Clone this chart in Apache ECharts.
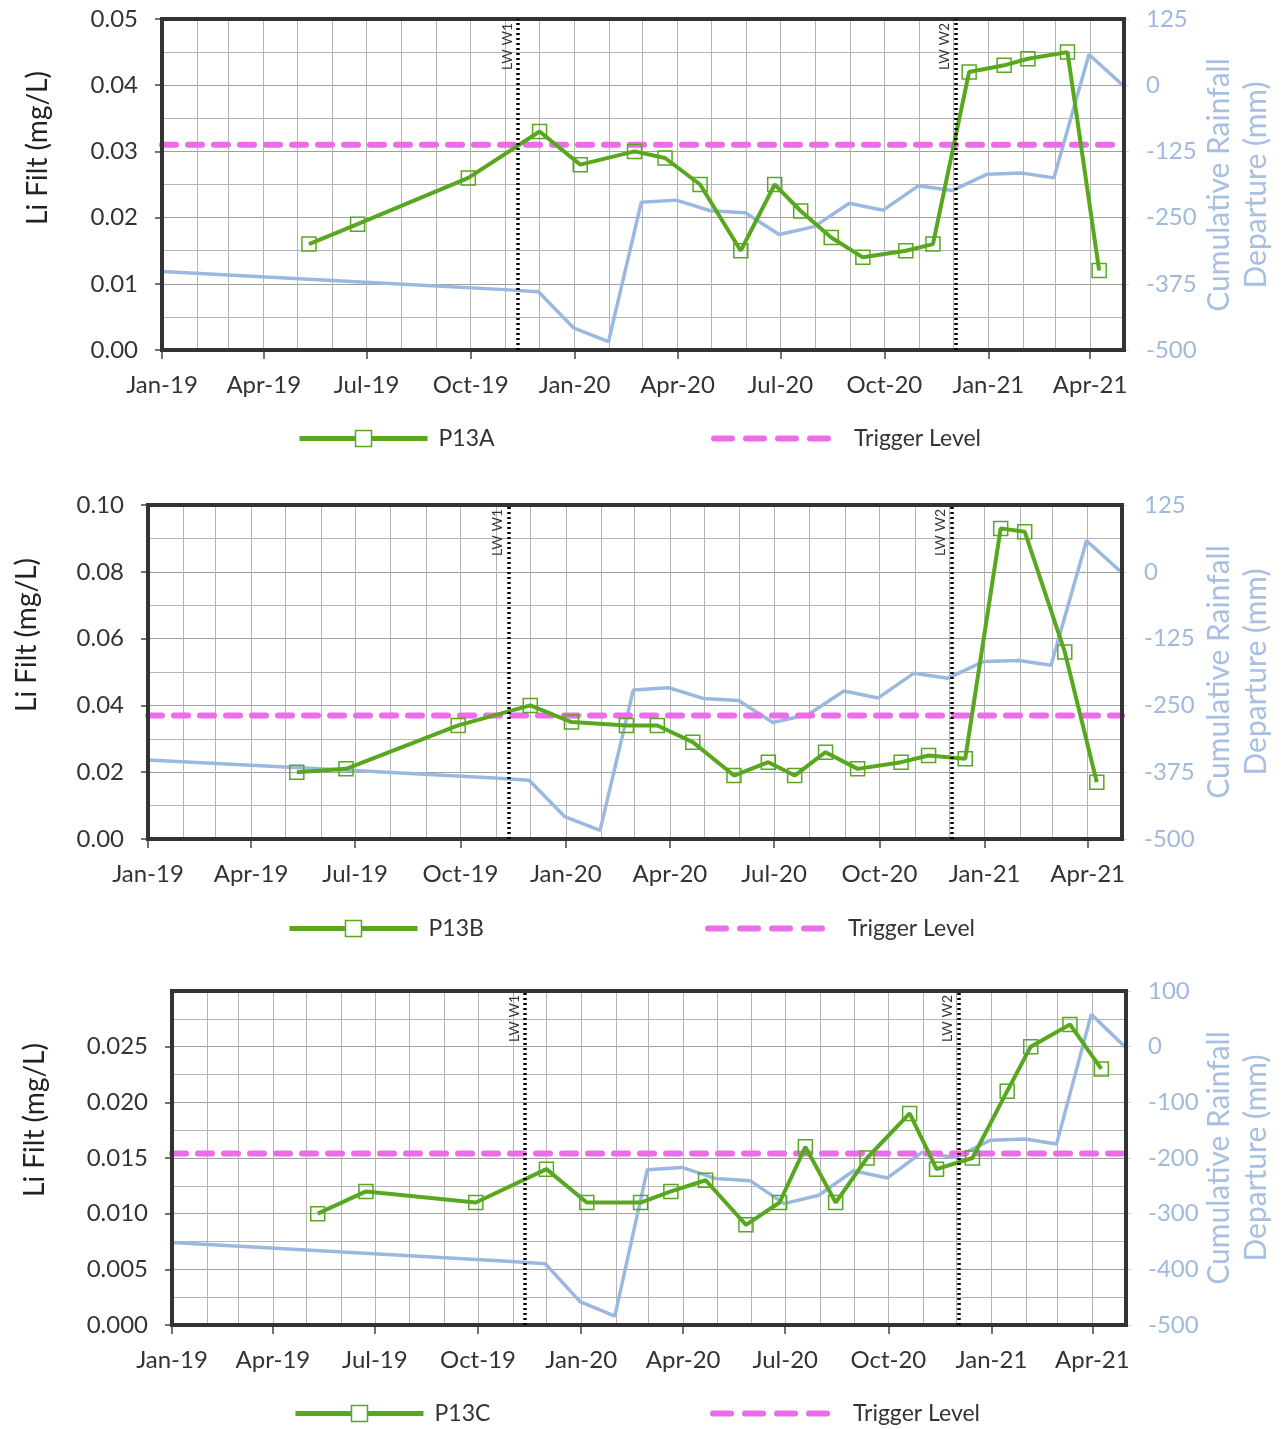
<!DOCTYPE html>
<html>
<head>
<meta charset="utf-8">
<script src="https://cdn.jsdelivr.net/npm/echarts@6/dist/echarts.min.js"></script>
<style>
  html, body { margin: 0; padding: 0; background: #fff; }
  #main { width: 1285px; height: 1429px; }
</style>
</head>
<body>
<div id="main"></div>
<script>
// sampling dates shared by the three bores
const sampleDates = ['2019-05-11', '2019-06-23', '2019-09-29', '2019-12-01', '2020-01-06', '2020-02-23',
  '2020-03-21', '2020-04-21', '2020-05-27', '2020-06-26', '2020-07-19', '2020-08-15', '2020-09-12',
  '2020-10-20', '2020-11-13', '2020-12-15', '2021-01-15', '2021-02-05', '2021-03-12', '2021-04-09']
const p13a = [0.016, 0.019, 0.026, 0.033, 0.028, 0.030, 0.029, 0.025, 0.015, 0.025, 0.021, 0.017, 0.014,
  0.015, 0.016, 0.042, 0.043, 0.044, 0.045, 0.012]
const p13b = [0.020, 0.021, 0.034, 0.040, 0.035, 0.034, 0.034, 0.029, 0.019, 0.023, 0.019, 0.026, 0.021,
  0.023, 0.025, 0.024, 0.093, 0.092, 0.056, 0.017]
const p13c = [0.010, 0.012, 0.011, 0.014, 0.011, 0.011, 0.012, 0.013, 0.009, 0.011, 0.016, 0.011, 0.015,
  0.019, 0.014, 0.015, 0.021, 0.025, 0.027, 0.023]

// cumulative rainfall departure (mm), month end
const rainDates = ['2019-01-01', '2019-06-30', '2019-10-31', '2019-11-30', '2019-12-31', '2020-01-31',
  '2020-02-29', '2020-03-31', '2020-04-30', '2020-05-31', '2020-06-30', '2020-07-31', '2020-08-31',
  '2020-09-30', '2020-10-31', '2020-11-30', '2020-12-31', '2021-01-31', '2021-02-28', '2021-03-31', '2021-04-30']
const rainDeparture = [-352, -372, -386, -390, -458, -484, -221, -217, -237, -241, -282, -267, -223,
  -236, -190, -199, -168, -166, -175, 58, 0]

const triggerLevels = [0.031, 0.037, 0.0154]
const lwDates = ['2019-11-12', '2020-12-03']
const lwNames = ['LW W1', 'LW W2']
const monthNames = ['Jan', 'Feb', 'Mar', 'Apr', 'May', 'Jun', 'Jul', 'Aug', 'Sep', 'Oct', 'Nov', 'Dec']

const xStart = '2019-01-01'
const xEnd = '2021-05-01'
const DAY = 86400000

const GREEN = '#58a81f'
const BLUE = '#9bb8e1'
const PINK = '#ec6cea'
const FONT = 'Lato'

const panels = [
  { name: 'P13A', values: p13a, trigger: triggerLevels[0], left: 162, width: 962, top: 19, height: 331,
    yMax: 0.05, yStep: 0.01, digits: 2, rMax: 125, rStep: 125, legY: 438, legA: 297, legB: 711,
    titleX: 38, titleY: 148, rTitleY: 185 },
  { name: 'P13B', values: p13b, trigger: triggerLevels[1], left: 148, width: 974, top: 505, height: 334,
    yMax: 0.10, yStep: 0.02, digits: 2, rMax: 125, rStep: 125, legY: 928, legA: 287, legB: 705,
    titleX: 27, titleY: 635, rTitleY: 672 },
  { name: 'P13C', values: p13c, trigger: triggerLevels[2], left: 172, width: 954, top: 991, height: 334,
    yMax: 0.03, yStep: 0.005, digits: 3, rMax: 100, rStep: 100, legY: 1413, legA: 293, legB: 710,
    titleX: 35, titleY: 1120, rTitleY: 1158, hideTop: true }
]

function zip(xs, ys) {
  return xs.map(function (x, i) { return [x, ys[i]] })
}

const option = {
  animation: false,
  backgroundColor: '#fff',
  textStyle: { fontFamily: FONT },
  grid: [], xAxis: [], yAxis: [], series: [], legend: [], graphic: []
}

panels.forEach(function (p, k) {
  option.grid.push({
    left: p.left, width: p.width, top: p.top, height: p.height,
    show: true, borderColor: '#333', borderWidth: 4, backgroundColor: 'transparent', z: 5
  })
  // monthly axis: grid lines only
  option.xAxis.push({
    type: 'time', gridIndex: k, position: 'bottom', min: xStart, max: xEnd,
    minInterval: 30 * DAY, maxInterval: 30 * DAY,
    axisLine: { show: false, onZero: false }, axisTick: { show: false }, axisLabel: { show: false },
    splitLine: { show: true, lineStyle: { color: '#b4b4b4', width: 1 } }
  })
  // quarterly axis: labels and ticks
  option.xAxis.push({
    type: 'time', gridIndex: k, position: 'bottom', min: xStart, max: xEnd,
    minInterval: 92 * DAY, maxInterval: 92 * DAY,
    axisLine: { show: false, onZero: false },
    axisTick: { show: true, length: 9, lineStyle: { color: '#444', width: 1.5 } },
    splitLine: { show: false },
    axisLabel: {
      show: true, color: '#333', fontSize: 24, margin: 23, fontFamily: FONT,
      showMinLabel: true, showMaxLabel: false, hideOverlap: false,
      formatter: function (v) {
        const d = new Date(v)
        if (d.getMonth() % 3 !== 0 || d.getDate() !== 1) return ''
        return monthNames[d.getMonth()] + '-' + String(d.getFullYear()).slice(2)
      }
    }
  })
  option.yAxis.push({
    type: 'value', gridIndex: k, min: 0, max: p.yMax, interval: p.yStep,
    axisLine: { show: false },
    axisTick: { show: true, length: 7, lineStyle: { color: '#444', width: 1.5 } },
    axisLabel: {
      color: '#333', fontSize: 24, margin: 24, fontFamily: FONT, showMaxLabel: !p.hideTop,
      formatter: function (v) { return v.toFixed(p.digits) }
    },
    splitLine: { show: true, lineStyle: { color: '#a0a0a0', width: 1 } },
    minorTick: { show: false, splitNumber: 2 },
    minorSplitLine: { show: true, lineStyle: { color: '#b4b4b4', width: 1 } }
  })
  option.yAxis.push({
    type: 'value', gridIndex: k, position: 'right', min: -500, max: p.rMax, interval: p.rStep,
    axisLine: { show: false },
    axisTick: { show: true, length: 5, lineStyle: { color: '#c8d6ea' } },
    axisLabel: { color: '#9fb9de', fontSize: 24, margin: 22, fontFamily: FONT },
    splitLine: { show: false }
  })

  // rainfall
  option.series.push({
    name: 'Rainfall ' + k, type: 'line', xAxisIndex: 2 * k, yAxisIndex: 2 * k + 1,
    data: zip(rainDates, rainDeparture), showSymbol: false, symbol: 'none',
    lineStyle: { color: BLUE, width: 3.5 }, itemStyle: { color: BLUE }, z: 2
  })
  // trigger level
  option.series.push({
    name: 'Trigger Level', type: 'line', xAxisIndex: 2 * k, yAxisIndex: 2 * k,
    data: [[xStart, p.trigger], [xEnd, p.trigger]], symbol: 'none',
    lineStyle: { color: PINK, width: 6, type: [14, 12], cap: 'round' }, itemStyle: { color: PINK }, z: 3
  })
  // bore series + mining markers
  option.series.push({
    name: p.name, type: 'line', xAxisIndex: 2 * k, yAxisIndex: 2 * k,
    data: zip(sampleDates, p.values),
    symbol: 'rect', symbolSize: 14, showSymbol: true,
    lineStyle: { color: GREEN, width: 4 },
    itemStyle: { color: 'rgba(255,255,255,0)', borderColor: GREEN, borderWidth: 1.5 },
    z: 4,
    markLine: {
      silent: true, symbol: 'none', animation: false,
      lineStyle: { color: '#000', width: 3.5, type: [2, 3] },
      label: {
        show: true, position: 'insideEndTop', distance: 4, fontSize: 14, color: '#333', fontFamily: FONT,
        formatter: function (prm) { return prm.name }
      },
      data: lwDates.map(function (d, i) { return { name: lwNames[i], xAxis: d } })
    }
  })

  option.legend.push({
    data: [{ name: p.name, itemStyle: { color: '#fff', borderColor: GREEN, borderWidth: 1.5 },
      lineStyle: { width: 5, color: GREEN } }],
    left: p.legA, top: p.legY - 11, padding: 0, itemWidth: 128, itemHeight: 20, selectedMode: false,
    textStyle: { fontSize: 23, color: '#333', fontFamily: FONT, padding: [0, 0, 0, 6] }
  })
  option.legend.push({
    data: [{ name: 'Trigger Level', itemStyle: { opacity: 0 },
      lineStyle: { width: 6, color: PINK, type: [18, 14], cap: 'round' } }],
    left: p.legB, top: p.legY - 11, padding: 0, itemWidth: 124, itemHeight: 20, selectedMode: false,
    textStyle: { fontSize: 23, color: '#333', fontFamily: FONT, padding: [0, 0, 0, 11] }
  })

  option.graphic.push({
    type: 'text', x: p.titleX, y: p.titleY, rotation: Math.PI / 2,
    style: { text: 'Li Filt (mg/L)', font: '28px Lato', fill: '#222', textAlign: 'center', textVerticalAlign: 'middle' }
  })
  option.graphic.push({
    type: 'text', x: 1238, y: p.rTitleY, rotation: Math.PI / 2,
    style: { text: 'Cumulative Rainfall\nDeparture (mm)', font: '30px Lato', lineHeight: 37,
      fill: '#a6bfe3', textAlign: 'center', textVerticalAlign: 'middle' }
  })
})

const chart = echarts.init(document.getElementById('main'))
chart.setOption(option)
</script>
</body>
</html>
